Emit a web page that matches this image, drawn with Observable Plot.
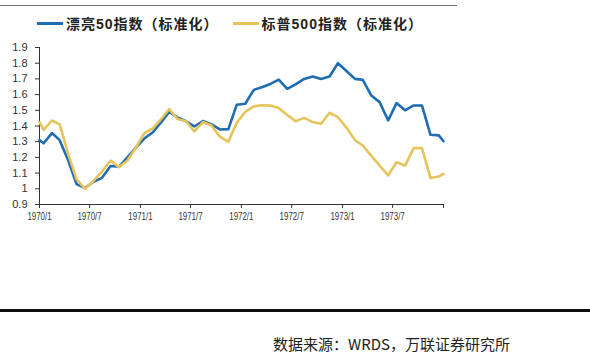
<!DOCTYPE html>
<html>
<head>
<meta charset="utf-8">
<script src="https://cdn.jsdelivr.net/npm/d3@7"></script>
<script src="https://cdn.jsdelivr.net/npm/@observablehq/plot@0.6"></script>
<style>
  html, body { margin: 0; padding: 0; background: #fff; }
  #wrap { position: relative; width: 590px; height: 358px; overflow: hidden; background: #fff; }
  #topline { position: absolute; left: 0; top: 5px; width: 457px; height: 0; border-top: 1.5px solid #777; }
  #legend { position: absolute; left: 37px; top: 13px; height: 20px; display: flex; align-items: center;
            font-family: "Liberation Sans", "Noto Sans CJK SC", sans-serif; font-weight: bold; font-size: 14px;
            letter-spacing: 1px; color: #222; white-space: nowrap; }
  .sw { display: inline-block; width: 26px; height: 3px; margin-right: 3px; }
  .item { display: flex; align-items: center; }
  #chart { position: absolute; left: 0; top: 35px; }
  #source { position: absolute; left: 273px; top: 334px; font-family: "Noto Sans CJK SC", sans-serif;
            font-size: 15px; color: #222; white-space: nowrap; line-height: 20px; }
  #bottomline { position: absolute; left: 0; top: 309px; width: 590px; height: 3px; background: #111; }
</style>
</head>
<body>
<div id="wrap">
  <div id="topline"></div>
  <div id="legend"></div>
  <div id="chart"></div>
  <div id="bottomline"></div>
  <div id="source">数据来源：WRDS，万联证券研究所</div>
</div>
<script>
const dates = [
  "1970-01-01",
  "1970-01-16","1970-02-15","1970-03-15","1970-04-15","1970-05-15","1970-06-15",
  "1970-07-15","1970-08-15","1970-09-15","1970-10-15","1970-11-15","1970-12-15",
  "1971-01-15","1971-02-15","1971-03-15","1971-04-15","1971-05-15","1971-06-15",
  "1971-07-15","1971-08-15","1971-09-15","1971-10-15","1971-11-15","1971-12-15",
  "1972-01-15","1972-02-15","1972-03-15","1972-04-15","1972-05-15","1972-06-15",
  "1972-07-15","1972-08-15","1972-09-15","1972-10-15","1972-11-15","1972-12-15",
  "1973-01-15","1973-02-15","1973-03-15","1973-04-15","1973-05-15","1973-06-15",
  "1973-07-15","1973-08-15","1973-09-15","1973-10-15","1973-11-15","1973-12-15",
  "1974-01-01"
];
const niftyFifty = [
  1.31,
  1.29, 1.355, 1.31, 1.18, 1.03, 1.005,
  1.045, 1.07, 1.145, 1.14, 1.20, 1.26,
  1.32, 1.36, 1.42, 1.49, 1.455, 1.43,
  1.397, 1.432, 1.41, 1.378, 1.38, 1.535,
  1.542, 1.63, 1.647, 1.668, 1.695, 1.637,
  1.665, 1.70, 1.715, 1.70, 1.715, 1.80,
  1.75, 1.70, 1.694, 1.594, 1.552, 1.435,
  1.546, 1.50, 1.531, 1.531, 1.344, 1.34,
  1.303
];
const sp500 = [
  1.425,
  1.376, 1.435, 1.41, 1.22, 1.06, 1.0,
  1.05, 1.11, 1.18, 1.138, 1.18, 1.26,
  1.355, 1.385, 1.44, 1.508, 1.445, 1.43,
  1.365, 1.425, 1.403, 1.332, 1.30, 1.42,
  1.49, 1.525, 1.532, 1.53, 1.515, 1.47,
  1.43, 1.452, 1.425, 1.414, 1.484, 1.456,
  1.39, 1.31, 1.276, 1.21, 1.148, 1.085,
  1.17, 1.148, 1.259, 1.259, 1.069, 1.078,
  1.095
];
const seriesNames = ["漂亮50指数（标准化）", "标普500指数（标准化）"];
const seriesColors = ["#1f6db0", "#e6c45c"];
const xTickDates = ["1970-01-01","1970-07-01","1971-01-01","1971-07-01","1972-01-01","1972-07-01","1973-01-01","1973-07-01","1974-01-01"];
const xTickLabels = ["1970/1","1970/7","1971/1","1971/7","1972/1","1972/7","1973/1","1973/7",""];
const yTicks = [0.9, 1.0, 1.1, 1.2, 1.3, 1.4, 1.5, 1.6, 1.7, 1.8, 1.9];

const rows = [];
dates.forEach((d, i) => {
  rows.push({date: new Date(d), value: niftyFifty[i], series: seriesNames[0]});
});
dates.forEach((d, i) => {
  rows.push({date: new Date(d), value: sp500[i], series: seriesNames[1]});
});
const xTicks = xTickDates.map(d => new Date(d));
const labelOf = new Map(xTickDates.map((d, i) => [new Date(d).getTime(), xTickLabels[i]]));

const plot = Plot.plot({
  width: 470,
  height: 190,
  marginLeft: 39,
  marginRight: 27,
  marginTop: 12,
  marginBottom: 21,
  style: {fontFamily: "'Liberation Sans', Arial, sans-serif", fontSize: "11px", color: "#333", background: "#fff"},
  x: {type: "utc", domain: [xTicks[0], xTicks[xTicks.length - 1]]},
  y: {domain: [0.9, 1.9]},
  color: {domain: seriesNames, range: seriesColors},
  marks: [
    Plot.ruleY([0.9], {stroke: "#333", strokeWidth: 1}),
    Plot.ruleX([xTicks[0]], {y1: 0.9, y2: 1.9, stroke: "#333", strokeWidth: 1}),
    Plot.axisX({ticks: xTicks, tickSize: 4, tickPadding: 4, tickFormat: d => labelOf.get(d.getTime()), label: null, stroke: "#333"}),
    Plot.axisY({ticks: yTicks, tickSize: 4, tickPadding: 8, tickFormat: d => String(+d.toFixed(1)), label: null, stroke: "#333"}),
    Plot.line(rows, {x: "date", y: "value", z: "series", stroke: "series", strokeWidth: 2.6, curve: "linear"})
  ]
});
document.getElementById("chart").appendChild(plot);

d3.select(plot).selectAll('g[aria-label="x-axis tick label"] text').each(function() {
  const t = this.getAttribute("transform") || "";
  this.setAttribute("transform", t + " scale(0.72,1)");
});

const legend = document.getElementById("legend");
seriesNames.forEach((name, i) => {
  const item = document.createElement("span");
  item.className = "item";
  if (i > 0) item.style.marginLeft = "14px";
  const sw = document.createElement("span");
  sw.className = "sw";
  sw.style.background = seriesColors[i];
  const tx = document.createElement("span");
  tx.textContent = name;
  item.appendChild(sw);
  item.appendChild(tx);
  legend.appendChild(item);
});
</script>
</body>
</html>
